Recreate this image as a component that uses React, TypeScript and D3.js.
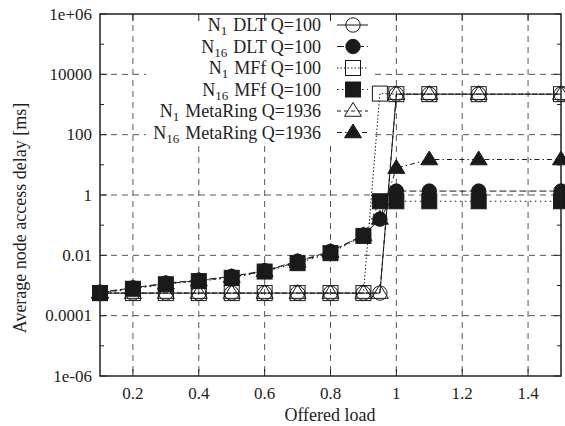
import React from "react";
import * as d3 from "d3";

// Offered load sample points
const loads = [0.1, 0.2, 0.3, 0.4, 0.5, 0.6, 0.7, 0.8, 0.9, 0.95, 1.0, 1.1, 1.25, 1.5];

// Average node access delay [ms] per series
const n1Dlt = [5.6e-4, 5.6e-4, 5.6e-4, 5.6e-4, 5.6e-4, 5.6e-4, 5.6e-4, 5.6e-4, 5.6e-4, 5.6e-4, 2200, 2200, 2200, 2200];
const n16Dlt = [6.0e-4, 8.3e-4, 1.2e-3, 1.5e-3, 2.0e-3, 3.1e-3, 6.4e-3, 0.0135, 0.047, 0.158, 1.35, 1.35, 1.35, 1.35];
const n1Mff = [5.6e-4, 5.6e-4, 5.6e-4, 5.6e-4, 5.6e-4, 5.6e-4, 5.6e-4, 5.6e-4, 5.6e-4, 2300, 2200, 2200, 2200, 2200];
const n16Mff = [5.6e-4, 7.8e-4, 1.1e-3, 1.4e-3, 1.8e-3, 2.9e-3, 5.5e-3, 0.0118, 0.044, 0.62, 0.62, 0.62, 0.62, 0.62];
const n1Meta = [5.6e-4, 5.6e-4, 5.6e-4, 5.6e-4, 5.6e-4, 5.6e-4, 5.6e-4, 5.6e-4, 5.6e-4, 5.6e-4, 2200, 2200, 2200, 2200];
const n16Meta = [5.8e-4, 8.0e-4, 1.15e-3, 1.45e-3, 1.9e-3, 3.0e-3, 6.0e-3, 0.0128, 0.046, 0.16, 7.8, 15, 15, 15];

const xTicks = [0.2, 0.4, 0.6, 0.8, 1.0, 1.2, 1.4];
const xTickLabels = ["0.2", "0.4", "0.6", "0.8", "1", "1.2", "1.4"];
const yTicks = [1e6, 1e4, 1e2, 1, 1e-2, 1e-4, 1e-6];
const yTickLabels = ["1e+06", "10000", "100", "1", "0.01", "0.0001", "1e-06"];
const yMinorTicks = [1e5, 1e3, 1e1, 1e-1, 1e-3, 1e-5];

type Marker = "circleOpen" | "circleFilled" | "squareOpen" | "squareFilled" | "triOpen" | "triFilled";

interface Series {
  sub: string;
  name: string;
  values: number[];
  marker: Marker;
  dash: string | null;
}

const series: Series[] = [
  { sub: "1", name: "DLT Q=100", values: n1Dlt, marker: "circleOpen", dash: null },
  { sub: "16", name: "DLT Q=100", values: n16Dlt, marker: "circleFilled", dash: "7,3" },
  { sub: "1", name: "MFf Q=100", values: n1Mff, marker: "squareOpen", dash: "1.5,2" },
  { sub: "16", name: "MFf Q=100", values: n16Mff, marker: "squareFilled", dash: "1.5,3.5" },
  { sub: "1", name: "MetaRing Q=1936", values: n1Meta, marker: "triOpen", dash: "4,3" },
  { sub: "16", name: "MetaRing Q=1936", values: n16Meta, marker: "triFilled", dash: "5,3,1.5,3" },
];

const W = 565;
const H = 426;
const left = 100;
const right = 561;
const top = 14;
const bottom = 376;

const FONT = "Liberation Serif, Times New Roman, serif";

function MarkerShape({ type, x, y }: { type: Marker; x: number; y: number }) {
  const filled = type.endsWith("Filled");
  const fill = filled ? "#1a1a1a" : "none";
  const stroke = "#1a1a1a";
  if (type.startsWith("circle")) {
    return <circle cx={x} cy={y} r={7.2} fill={fill} stroke={stroke} strokeWidth={1} />;
  }
  if (type.startsWith("square")) {
    return <rect x={x - 7.5} y={y - 7.5} width={15} height={15} fill={fill} stroke={stroke} strokeWidth={1} />;
  }
  const s = 8.5;
  const d = `M${x},${y - s}L${x + s},${y + s * 0.62}L${x - s},${y + s * 0.62}Z`;
  return <path d={d} fill={fill} stroke={stroke} strokeWidth={1} />;
}

export default function App() {
  const x = d3.scaleLinear().domain([0.1, 1.5]).range([left, right]);
  const y = d3.scaleLog().domain([1e-6, 1e6]).range([bottom, top]);
  const line = d3
    .line<number>()
    .x((_, i) => x(loads[i]))
    .y((v) => y(v));

  const gridColor = "#555";
  const legendTextX = 321;
  const legendLine = [337, 368];
  const legendMarkX = 353;
  const legendY0 = 25;
  const legendDy = 21.5;
  const textStyle = { fontFamily: FONT };

  return (
    <svg
      width={W}
      height={H}
      style={{ position: "absolute", left: 0, top: 0, background: "#fff", fontFamily: FONT }}
    >
      <rect x={0} y={0} width={W} height={H} fill="#fff" />
      {/* grid */}
      {xTicks.map((t) => (
        <line key={"gx" + t} x1={x(t)} x2={x(t)} y1={top} y2={bottom} stroke={gridColor} strokeDasharray="6,5" strokeWidth={1} />
      ))}
      {yTicks.slice(1, -1).map((t) => (
        <line key={"gy" + t} x1={left} x2={right} y1={y(t)} y2={y(t)} stroke={gridColor} strokeDasharray="6,5" strokeWidth={1} />
      ))}

      {/* opaque key background */}
      <rect x={146} y={top} width={229} height={129} fill="#fff" />

      {/* ticks */}
      {xTicks.map((t) => (
        <g key={"tx" + t}>
          <line x1={x(t)} x2={x(t)} y1={bottom} y2={bottom - 7} stroke="#222" />
          <line x1={x(t)} x2={x(t)} y1={top} y2={top + 7} stroke="#222" />
        </g>
      ))}
      {yTicks.map((t) => (
        <g key={"ty" + t}>
          <line x1={left} x2={left + 7} y1={y(t)} y2={y(t)} stroke="#222" />
          <line x1={right} x2={right - 7} y1={y(t)} y2={y(t)} stroke="#222" />
        </g>
      ))}
      {yMinorTicks.map((t) => (
        <g key={"tm" + t}>
          <line x1={left} x2={left + 4} y1={y(t)} y2={y(t)} stroke="#222" />
          <line x1={right} x2={right - 4} y1={y(t)} y2={y(t)} stroke="#222" />
        </g>
      ))}

      {/* series lines */}
      {series.map((s, i) => (
        <path
          key={"l" + i}
          d={line(s.values) || ""}
          fill="none"
          stroke="#1a1a1a"
          strokeWidth={1}
          strokeDasharray={s.dash || undefined}
        />
      ))}
      {/* series markers */}
      {series.map((s, i) => (
        <g key={"m" + i}>
          {s.values.map((v, j) => (
            <MarkerShape key={j} type={s.marker} x={x(loads[j])} y={y(v)} />
          ))}
        </g>
      ))}

      {/* frame */}
      <rect x={left} y={top} width={right - left} height={bottom - top} fill="none" stroke="#222" strokeWidth={1.5} />

      {/* tick labels */}
      {xTicks.map((t, i) => (
        <text key={"xl" + t} x={x(t)} y={399} textAnchor="middle" fontSize={17} fill="#222" style={textStyle}>
          {xTickLabels[i]}
        </text>
      ))}
      {yTicks.map((t, i) => (
        <text key={"yl" + t} x={92} y={y(t) + 5.5} textAnchor="end" fontSize={17} fill="#222" style={textStyle}>
          {yTickLabels[i]}
        </text>
      ))}

      {/* axis titles */}
      <text x={330} y={421} textAnchor="middle" fontSize={18} fill="#222" style={textStyle}>
        Offered load
      </text>
      <text
        transform={`translate(26,${218}) rotate(-90)`}
        textAnchor="middle"
        fontSize={18}
        fill="#222"
        style={textStyle}
      >
        Average node access delay [ms]
      </text>

      {/* legend */}
      {series.map((s, i) => {
        const ly = legendY0 + i * legendDy;
        return (
          <g key={"lg" + i}>
            <text x={legendTextX} y={ly + 6} textAnchor="end" fontSize={18} fill="#222" style={textStyle}>
              <tspan>N</tspan>
              <tspan fontSize={13} dy={4}>
                {s.sub}
              </tspan>
              <tspan dy={-4} dx={6}>
                {s.name}
              </tspan>
            </text>
            <line
              x1={legendLine[0]}
              x2={legendLine[1]}
              y1={ly}
              y2={ly}
              stroke="#1a1a1a"
              strokeDasharray={s.dash || undefined}
            />
            <MarkerShape type={s.marker} x={legendMarkX} y={ly} />
          </g>
        );
      })}
    </svg>
  );
}
